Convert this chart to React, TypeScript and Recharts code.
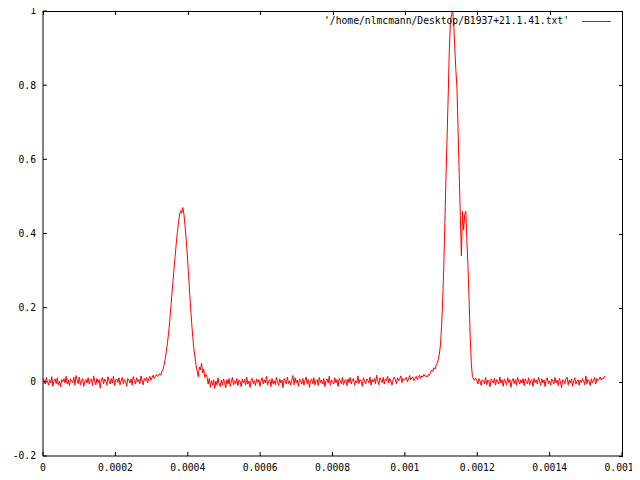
// gnuplot-style pulse profile of PSR B1937+21 with a full black frame
import { LineChart, Line, XAxis, YAxis } from 'recharts';

const PERIOD = 0.0015578; // seconds, one rotation
const NBINS = 512;

const X_TICKS = [0, 0.0002, 0.0004, 0.0006, 0.0008, 0.001, 0.0012, 0.0014, 0.0016];
const Y_TICKS = [-0.2, 0, 0.2, 0.4, 0.6, 0.8, 1];
const SERIES_NAME = "'/home/nlmcmann/Desktop/B1937+21.1.41.txt'";

const baselineLead = [
  0.009, 0.004, -0.006, 0.012, 0.001, -0.009, 0.006, -0.003, 0.014, -0.012, 0.003, 0.008, -0.005, 0.011, -0.008, 0.002,
  -0.013, 0.006, 0.0, 0.009, -0.003, 0.015, -0.006, 0.005, -0.01, 0.008, 0.003, -0.002, 0.012, -0.009, 0.017, 0.006,
  -0.005, 0.013, -0.008, 0.003, 0.009, -0.012, 0.002, 0.006, -0.003, 0.011, -0.006, 0.005, 0.008, -0.01, 0.016, 0.0,
  -0.008, 0.009, -0.002, 0.006, -0.017, 0.005, 0.012, -0.005, 0.008, 0.002, -0.009, 0.014, 0.003, -0.006, 0.009, -0.003,
  0.015, -0.01, 0.005, 0.008, -0.002, 0.011, -0.008, 0.003, 0.012, -0.005, 0.006, 0.002, -0.012, 0.009, 0.005, -0.003,
  0.008, -0.009, 0.014, 0.003, -0.006, 0.011, 0.0, 0.006, -0.005, 0.016, 0.005, -0.008, 0.009, 0.003, 0.012, -0.003,
  0.008, 0.015, 0.004, 0.011, 0.018, 0.009, 0.014, 0.02, 0.015,
];

const interpulse = [
  0.016, 0.022, 0.018, 0.028, 0.034, 0.046, 0.062, 0.082, 0.104, 0.13, 0.16, 0.198, 0.234, 0.27, 0.305, 0.338,
  0.372, 0.402, 0.428, 0.45, 0.462, 0.455, 0.47, 0.452, 0.42, 0.385, 0.345, 0.298, 0.25, 0.202, 0.16, 0.122,
  0.09, 0.068, 0.045, 0.03, 0.014, 0.04, 0.032, 0.05, 0.024, 0.034, 0.012, 0.02,
];

const baselineMid = [
  0.012, -0.006, 0.009, -0.015, 0.003, -0.009, 0.006, -0.018, 0.002, -0.008, 0.011, -0.005, -0.013, 0.005, -0.009, 0.008,
  -0.003, -0.016, 0.006, -0.006, 0.009, -0.012, 0.0, 0.012, -0.008, 0.003, -0.005, 0.009, -0.01, 0.005, 0.002, -0.013,
  0.008, -0.003, 0.006, -0.009, 0.013, -0.006, 0.002, -0.015, 0.005, 0.009, -0.005, 0.003, -0.01, 0.008, -0.002, 0.006,
  -0.012, 0.003, 0.011, -0.006, 0.005, -0.003, 0.015, -0.009, 0.002, 0.006, -0.013, 0.009, -0.005, 0.003, -0.008, 0.012,
  0.0, -0.01, 0.008, -0.003, 0.005, -0.016, 0.009, 0.002, -0.006, 0.013, -0.005, 0.003, -0.009, 0.006, 0.017, -0.008,
  0.011, -0.003, 0.005, -0.012, 0.008, 0.002, -0.006, 0.009, -0.009, 0.003, 0.013, -0.005, 0.006, -0.015, 0.002, 0.008,
  -0.005, 0.011, -0.008, 0.003, 0.006, -0.01, 0.012, -0.002, 0.005, -0.006, 0.009, -0.013, 0.003, 0.008, -0.003, 0.015,
  -0.009, 0.005, 0.0, -0.006, 0.011, -0.003, 0.006, -0.012, 0.009, 0.002, -0.005, 0.013, -0.008, 0.003, 0.006, -0.01,
  0.008, -0.002, 0.012, -0.006, 0.005, 0.009, -0.009, 0.003, -0.003, 0.016, -0.005, 0.006, 0.002, -0.012, 0.011, 0.003,
  -0.006, 0.008, 0.005, -0.003, 0.013, -0.009, 0.006, 0.0, 0.009, -0.005, 0.018, 0.003, -0.008, 0.011, 0.005, -0.002,
  0.012, -0.006, 0.008, 0.003, 0.015, -0.003, 0.009, 0.002, -0.009, 0.006, 0.013, 0.005, -0.005, 0.011, 0.003, 0.008,
  0.016, -0.002, 0.009, 0.005, 0.006, 0.012, 0.0, 0.008, 0.017, 0.005, 0.011, 0.013, 0.003, 0.009, 0.015, 0.006,
  0.012, 0.018, 0.009, 0.016, 0.013, 0.02, 0.015,
];

const mainPulse = [
  0.016, 0.013, 0.02, 0.017, 0.026, 0.032, 0.028, 0.038, 0.034, 0.045, 0.05, 0.06, 0.075, 0.1, 0.15, 0.22,
  0.31, 0.43, 0.55, 0.66, 0.77, 0.89, 0.97, 0.99, 1.0, 0.97, 0.9, 0.84, 0.79, 0.68, 0.56, 0.45,
  0.34, 0.46, 0.41, 0.45, 0.46, 0.38, 0.31, 0.22, 0.12, 0.05, 0.015, 0.008, 0.004, 0.01,
];

const baselineTail = [
  0.005, -0.006, 0.009, 0.002, -0.01, 0.006, 0.003, -0.005, 0.012, -0.008, 0.005, 0.0, -0.013, 0.008, 0.003, -0.003,
  0.009, -0.009, 0.006, 0.002, -0.006, 0.013, -0.003, 0.005, -0.012, 0.008, 0.003, -0.008, 0.011, -0.002, 0.006, -0.015,
  0.003, 0.009, -0.005, 0.006, -0.009, 0.012, 0.002, -0.006, 0.005, -0.003, 0.009, -0.01, 0.008, 0.0, -0.005, 0.011,
  -0.008, 0.003, 0.006, -0.012, 0.009, -0.002, 0.005, -0.006, 0.013, 0.002, -0.009, 0.008, -0.003, 0.005, -0.013, 0.006,
  0.011, -0.005, 0.003, -0.009, 0.008, 0.002, -0.006, 0.012, -0.003, 0.005, -0.01, 0.009, 0.0, -0.016, 0.006, 0.003,
  -0.005, 0.009, 0.013, -0.008, 0.005, -0.003, 0.008, -0.012, 0.003, 0.011, -0.006, 0.002, 0.006, -0.009, 0.005, -0.002,
  0.009, 0.003, -0.008, 0.016, -0.005, 0.006, 0.002, -0.01, 0.008, -0.003, 0.005, 0.012, -0.006, 0.009, 0.003, 0.006,
  0.013, 0.005, 0.011, 0.008, 0.015, 0.012,
];

const X_MIN = 0;
const X_MAX = 0.0016;
const Y_MIN = -0.2;
const Y_MAX = 1;

const profile = [...baselineLead, ...interpulse, ...baselineMid, ...mainPulse, ...baselineTail];
const data = profile.map((y, i) => ({ x: (i * PERIOD) / NBINS, y }));

const W = 640;
const H = 480;
const PLOT_LEFT = 43;
const PLOT_TOP = 11;
const PLOT_W = 579;
const PLOT_H = 445;
const TICK = 4;

const FONT = '"DejaVu Sans Mono", "Liberation Mono", monospace';
const tickStyle = { fill: '#000', fontSize: 9.7, fontFamily: FONT };

function Frame() {
  const xPos = (t: number) => Math.round(PLOT_LEFT + ((t - X_MIN) / (X_MAX - X_MIN)) * PLOT_W);
  const yPos = (t: number) => Math.round(PLOT_TOP + ((Y_MAX - t) / (Y_MAX - Y_MIN)) * PLOT_H);
  return (
    <div style={{ position: 'absolute', left: 0, top: 0, width: W, height: H, zIndex: 5, pointerEvents: 'none' }}>
      <div style={{ position: 'absolute', left: PLOT_LEFT, top: PLOT_TOP, width: PLOT_W + 1, height: 1, background: '#000' }} />
      <div style={{ position: 'absolute', left: PLOT_LEFT + PLOT_W, top: PLOT_TOP, width: 1, height: PLOT_H + 1, background: '#000' }} />
      {X_TICKS.map((t) => (
        <div
          key={'tx' + t}
          style={{ position: 'absolute', left: xPos(t), top: PLOT_TOP, width: 1, height: TICK, background: '#000' }}
        />
      ))}
      {Y_TICKS.map((t) => (
        <div
          key={'ty' + t}
          style={{ position: 'absolute', left: PLOT_LEFT + PLOT_W + 1 - TICK, top: yPos(t), width: TICK, height: 1, background: '#000' }}
        />
      ))}
    </div>
  );
}

export default function App() {
  return (
    <div style={{ position: 'relative', margin: -8, width: W, height: H, background: '#fff' }}>
      <LineChart
        width={W}
        height={H}
        data={data}
        margin={{ top: PLOT_TOP, right: W - PLOT_LEFT - PLOT_W, bottom: 0, left: 0 }}
      >
        <XAxis
          dataKey="x"
          type="number"
          domain={[X_MIN, X_MAX]}
          ticks={X_TICKS}
          interval={0}
          height={H - PLOT_TOP - PLOT_H}
          stroke="#000"
          tickSize={-TICK}
          tickMargin={12}
          tick={tickStyle}
          tickFormatter={(v: number) => String(v)}
        />
        <YAxis
          type="number"
          domain={[Y_MIN, Y_MAX]}
          ticks={Y_TICKS}
          interval={0}
          width={PLOT_LEFT}
          stroke="#000"
          tickSize={-TICK}
          tickMargin={11}
          tick={tickStyle}
          tickFormatter={(v: number) => String(v)}
        />
        <Line
          dataKey="y"
          type="linear"
          stroke="#ff0000"
          strokeWidth={1}
          dot={false}
          activeDot={false}
          isAnimationActive={false}
        />
      </LineChart>
      <Frame />
      <div
        style={{
          position: 'absolute',
          right: 71,
          top: 15,
          zIndex: 6,
          fontFamily: FONT,
          fontSize: 9.7,
          lineHeight: '12px',
          color: '#000',
          whiteSpace: 'pre',
        }}
      >
        {SERIES_NAME}
      </div>
      <div style={{ position: 'absolute', left: 582, top: 21, width: 29, height: 1, background: '#ff0000', zIndex: 6 }} />
    </div>
  );
}
